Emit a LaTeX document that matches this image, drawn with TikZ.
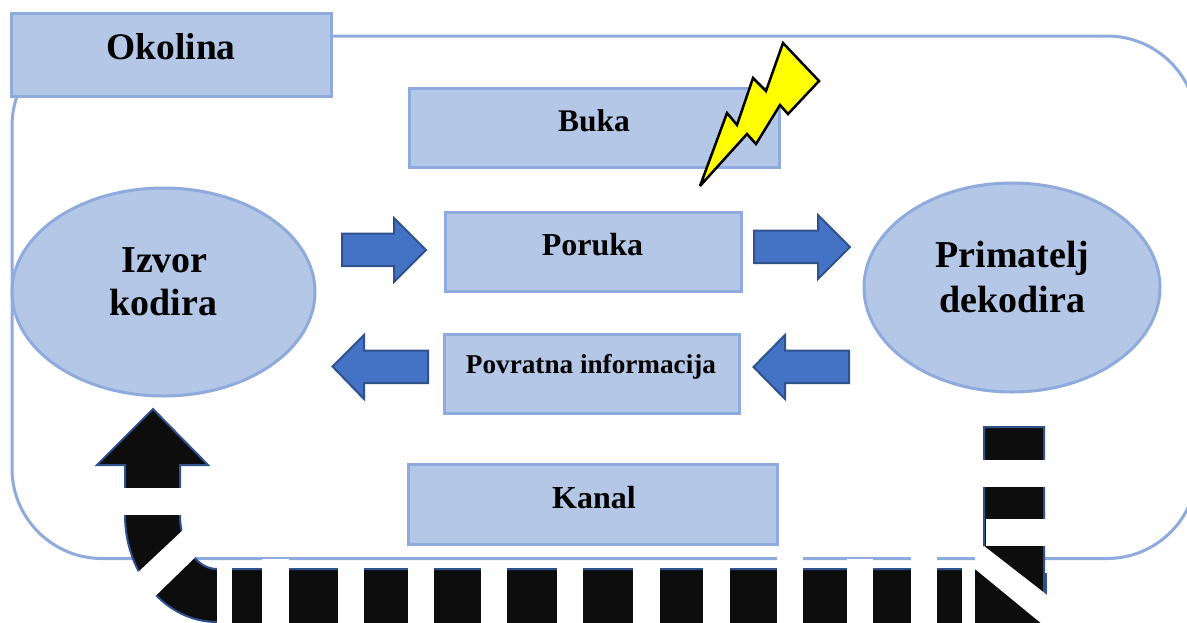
\documentclass[tikz,border=0pt]{standalone}
\usepackage{fontspec}
\setmainfont{Liberation Serif}
\usetikzlibrary{shapes.geometric}
\definecolor{boxfill}{HTML}{B4C7E7}
\definecolor{boxline}{HTML}{8FAADC}
\definecolor{arrowfill}{HTML}{4472C4}
\definecolor{arrowline}{HTML}{2F528F}
\definecolor{nearblack}{HTML}{0D0D0D}
\definecolor{boltfill}{HTML}{FFFF00}
\tikzset{
  boxnode/.style={draw=boxline,fill=boxfill,line width=3pt,inner sep=0pt,rectangle},
  ellnode/.style={draw=boxline,fill=boxfill,line width=3pt,inner sep=0pt,ellipse},
  blockarrow/.style={draw=arrowline,fill=arrowfill,line width=2pt,line join=miter},
  blackarrow/.style={draw=arrowline,fill=nearblack,line width=2pt,line join=miter},
  cutout/.style={fill=white,draw=none},
  labeltext/.style={anchor=base,inner sep=0pt,font=\bfseries},
}
\begin{document}
\begin{tikzpicture}[x=1pt,y=-1pt]
\useasboundingbox (0,0) rectangle (1187,622);
\clip (0,0) rectangle (1187,622);
\fill[white] (0,0) rectangle (1187,622);
% environment frame
\draw[boxline,line width=3pt,rounded corners=90pt] (12,36) rectangle (1197,558.5);
% black striped arrow
\fill[nearblack] (1019,574) rectangle (1046,623);
\draw[arrowline,line width=2pt] (1019,574) -- (1046,574) -- (1046,600);
\draw[blackarrow] (1044,623) -- (1044,427) -- (984,427) -- (984,569) -- (217,569)
  .. controls (197,569) and (180,545) .. (180,515) -- (180,465) -- (208,465) -- (153,409)
  -- (97,465) -- (125,465) -- (125,515)
  .. controls (125,574) and (166,622) .. (217,622) -- (217,625) -- (1044,625);
\foreach \a/\b in {217/232,338/364,408/434,481/507,557/583,633/660,703/730,962/975}{
  \fill[cutout] (\a,560.5) rectangle (\b,624);}
\fill[cutout] (262,558.5) rectangle (289,624);
\fill[cutout] (847,558.5) rectangle (873,624);
\fill[cutout] (776.5,555) rectangle (803,624);
\fill[cutout] (911,555) rectangle (937,624);
\fill[cutout] (118,488) rectangle (186,515);
\fill[cutout] (980,460) rectangle (1050,487);
\fill[cutout] (985.5,519) rectangle (1050,546);
\fill[cutout] (199,515) -- (119,590) -- (140,611) -- (215,538) -- cycle;
\fill[cutout] (984,546) -- (1060,605) -- (1060,624) -- (1042,624) -- (975,569) -- (975,555) -- cycle;
% boxes
\node[boxnode,minimum width=320pt,minimum height=83pt] (okolinabox) at (171,54.5) {};
\node[boxnode,minimum width=370pt,minimum height=79pt] (bukabox) at (594,127.5) {};
\node[boxnode,minimum width=296pt,minimum height=79pt] (porukabox) at (593,251.5) {};
\node[boxnode,minimum width=295pt,minimum height=79pt] (povratnabox) at (591.5,373.5) {};
\node[boxnode,minimum width=369pt,minimum height=80pt] (kanalbox) at (592.5,504) {};
\node[ellnode,minimum width=303pt,minimum height=208pt] (izvor) at (163.5,292) {};
\node[ellnode,minimum width=296pt,minimum height=209pt] (primatelj) at (1012,287.5) {};
% block arrows
\draw[blockarrow] (342,233.5) -- (394,233.5) -- (394,218) -- (426,250) -- (394,282) -- (394,266) -- (342,266) -- cycle;
\draw[blockarrow] (428,350.5) -- (364,350.5) -- (364,335) -- (332.5,366.5) -- (364,399) -- (364,383) -- (428,383) -- cycle;
\draw[blockarrow] (754,230.5) -- (818,230.5) -- (818,215) -- (850,247) -- (818,279) -- (818,263) -- (754,263) -- cycle;
\draw[blockarrow] (849,350.5) -- (785,350.5) -- (785,335) -- (753.5,367) -- (785,399) -- (785,383) -- (849,383) -- cycle;
% lightning bolt
\draw[fill=boltfill,draw=black,line width=2.5pt,line join=miter,miter limit=3]
  (700,186) -- (727,113) -- (737,125) -- (753,78) -- (766,91) -- (783,43) -- (819,81)
  -- (788,114) -- (780,105) -- (756,144) -- (747,134) -- cycle;
% labels
\node[labeltext,font=\bfseries\fontsize{37.5}{40}\selectfont] (okolina) at (171,59) {Okolina};
\node[labeltext,font=\bfseries\fontsize{31.5}{36}\selectfont] (buka) at (594,131) {Buka};
\node[labeltext,font=\bfseries\fontsize{32}{36}\selectfont] (poruka) at (592.5,255) {Poruka};
\node[labeltext,font=\bfseries\fontsize{27.2}{32}\selectfont] (povratna) at (591,373) {Povratna informacija};
\node[labeltext,font=\bfseries\fontsize{32}{36}\selectfont] (kanal) at (594,508) {Kanal};
\node[labeltext,font=\bfseries\fontsize{38}{44}\selectfont] (izvort) at (164.5,272) {Izvor};
\node[labeltext,font=\bfseries\fontsize{38}{44}\selectfont] (kodira) at (163.5,315) {kodira};
\node[labeltext,font=\bfseries\fontsize{38}{44}\selectfont] (primateljt) at (1012.5,267) {Primatelj};
\node[labeltext,font=\bfseries\fontsize{38}{44}\selectfont] (dekodira) at (1012.5,312) {dekodira};
\end{tikzpicture}
\end{document}
